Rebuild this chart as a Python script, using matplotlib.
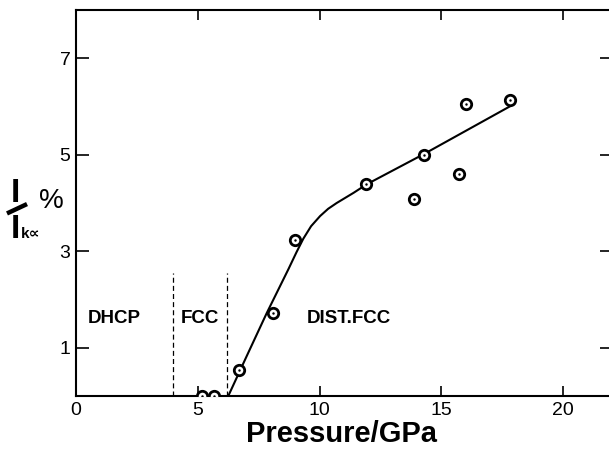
import matplotlib
matplotlib.use("Agg")
import matplotlib.pyplot as plt
from matplotlib.lines import Line2D

plt.rcParams['font.family'] = ['Liberation Sans', 'DejaVu Sans']

# measured points (pressure GPa, intensity %)
pressure = [5.16, 5.68, 6.71, 8.08, 9.0, 11.9, 13.89, 14.28, 15.70, 16.0, 17.82]
intensity = [0.0, 0.0, 0.535, 1.71, 3.24, 4.4, 4.09, 5.0, 4.61, 6.06, 6.14]

# hand drawn trend curve
curve_p = [6.25, 7.0, 7.83, 8.72, 9.05, 9.33, 9.65, 10.02, 10.35, 10.7, 11.39, 11.94, 14.3, 17.8]
curve_i = [0.0, 0.82, 1.72, 2.63, 2.98, 3.26, 3.52, 3.73, 3.88, 4.0, 4.21, 4.39, 5.02, 6.0]

# phase boundaries
boundaries = [3.97, 6.19]
phases = ["DHCP", "FCC", "DIST.FCC"]
phase_x = [1.56, 5.1, 11.2]

xticks = [0, 5, 10, 15, 20]
yticks = [1, 3, 5, 7]

fig = plt.figure(figsize=(6.09, 4.49), dpi=100)
ax = fig.add_axes([76/609, 1 - 396/449, 536/609, 386/449])

ax.plot(curve_p, curve_i, color='black', lw=1.5, zorder=2)
ax.plot(pressure, intensity, 'o', ms=7.5, mfc='white', mec='black', mew=2.0, zorder=3)
ax.plot(pressure, intensity, '.', ms=1.5, color='black', zorder=4)

for b in boundaries:
    ax.plot([b, b], [0, 2.55], color='black', lw=0.9, dashes=(4, 2.5))

for name, px in zip(phases, phase_x):
    ax.text(px, 1.6, name, ha='center', va='center', fontsize=13.5, fontweight='bold')

ax.set_xlim(0, 22)
ax.set_ylim(0, 8)
ax.set_xticks(xticks)
ax.set_yticks(yticks)
ax.tick_params(axis='both', direction='in', labelsize=14, width=1.2, length=7,
               top=True, right=True, labeltop=False, labelright=False)
ax.tick_params(axis='x', pad=4)
ax.tick_params(axis='y', pad=4, length=9)
for s in ['left', 'bottom', 'top']:
    ax.spines[s].set_linewidth(1.5)
ax.spines['right'].set_visible(False)

fig.text(341/609, 1 - 442/449, "Pressure/GPa", ha='center', va='baseline',
         fontsize=21, fontweight='bold')

# y label: I / I_ka %
fig.text(15/609, 1 - 202/449, "I", ha='center', va='baseline', fontsize=24, fontweight='bold')
fig.text(15/609, 1 - 238/449, "I", ha='center', va='baseline', fontsize=24, fontweight='bold')
fig.text(21/609, 1 - 238/449, "k\u221d", ha='left', va='baseline', fontsize=11, fontweight='bold')
fig.text(51.5/609, 1 - 208/449, "%", ha='center', va='baseline', fontsize=20)
fig.add_artist(Line2D([9/609, 25/609], [1 - 212.5/449, 1 - 205/449], color='black', lw=3.2))

fig.savefig("out.png", dpi=100)
